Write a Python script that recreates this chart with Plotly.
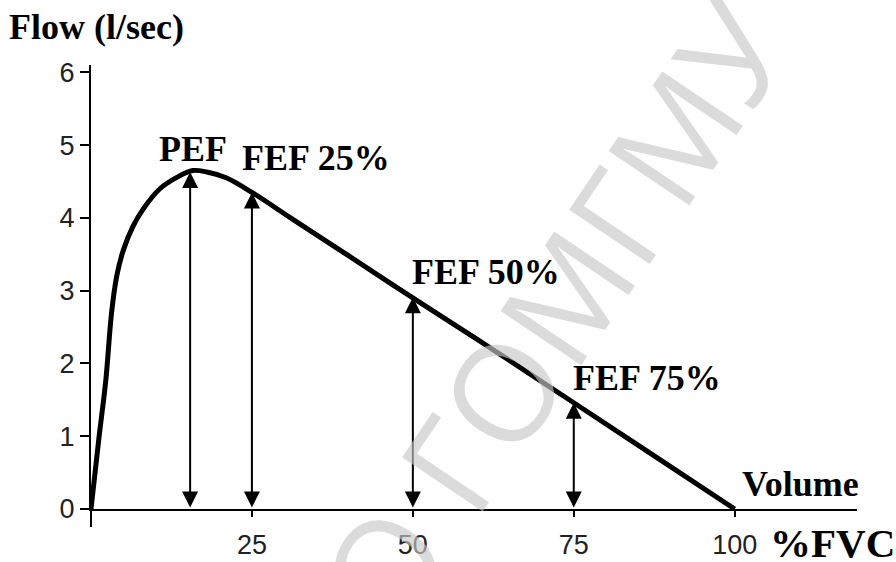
import plotly.graph_objects as go

# flow-volume curve
fvc_pct = [0, 1.2, 2.3, 3.2, 4.0, 5.0, 6.5, 8.1, 10.7, 13.4, 15.8, 18, 21, 25, 31, 40, 50, 60, 75, 87.5, 100]
flow = [0, 0.95, 1.77, 2.7, 3.2, 3.55, 3.88, 4.12, 4.4, 4.56, 4.65, 4.63, 4.55, 4.35, 4.0, 3.48, 2.9, 2.33, 1.46, 0.73, 0]

# measured points marked by arrows
labels = ["PEF", "FEF 25%", "FEF 50%", "FEF 75%"]
label_x = [15.4, 25, 50, 75]
label_flow = [4.63, 4.35, 2.91, 1.46]

x_ticks = [25, 50, 75, 100]
y_ticks = [0, 1, 2, 3, 4, 5, 6]

W, H = 896, 562
L, R, T, B = 91, 39, 65, 53

serif = dict(family="Liberation Serif, Times New Roman, serif", size=36, color="black", weight="bold")
tickfont = dict(family="Arial, Liberation Sans", size=27, color='#222')


def px_x(p):
    return (p - L) / (W - L - R)


def px_y(p):
    return (H - B - p) / (H - T - B)


fig = go.Figure()

fig.add_trace(go.Scatter(x=fvc_pct, y=flow, mode='lines', cliponaxis=False,
                         line=dict(color='black', width=5, shape='spline', smoothing=1.0),
                         hoverinfo='skip', showlegend=False))

for x, f in zip(label_x, label_flow):
    fig.add_annotation(x=x, y=f, ax=x, ay=0, axref='x', ayref='y', text='',
                       showarrow=True, arrowside='end+start', arrowhead=2,
                       arrowsize=1.6, arrowwidth=2, arrowcolor='black')

# text labels
fig.add_annotation(x=15.8, y=4.95, text=labels[0], showarrow=False, font=serif, xanchor='center')
fig.add_annotation(x=23.1, y=4.82, text=labels[1], showarrow=False, font=serif, xanchor='left')
fig.add_annotation(x=49.5, y=3.26, text=labels[2], showarrow=False, font=serif, xanchor='left')
fig.add_annotation(x=74.5, y=1.8, text=labels[3], showarrow=False, font=serif, xanchor='left')
fig.add_annotation(x=100.8, y=0.35, text="Volume", showarrow=False, font=serif, xanchor='left')
fig.add_annotation(x=105.1, y=px_y(543), yref='paper', text="%FVC", showarrow=False,
                   font=dict(serif, size=41), xanchor='left', yanchor='middle')
fig.add_annotation(x=px_x(7), y=px_y(27), xref='paper', yref='paper', text="Flow (l/sec)",
                   showarrow=False, font=serif, xanchor='left', yanchor='middle')

# y axis continues a bit below zero
fig.add_shape(type='line', xref='paper', yref='paper', x0=0, x1=0, y0=0, y1=px_y(527),
              line=dict(color='black', width=2))

# watermark
fig.add_annotation(x=px_x(529), y=px_y(348), xref='paper', yref='paper', text="УО ГОМГМУ",
                   showarrow=False, textangle=-56,
                   font=dict(family="Open Sans", size=136, color="rgba(200,200,200,0.65)"))

fig.update_layout(
    width=W, height=H,
    margin=dict(l=L, r=R, t=T, b=B),
    plot_bgcolor='white', paper_bgcolor='white',
    showlegend=False,
    xaxis=dict(range=[0, 119], showgrid=False, zeroline=False, showline=True, linecolor='black',
               linewidth=2, ticks='outside', ticklen=6, tickwidth=2, tickcolor='black',
               tickvals=x_ticks, tickfont=tickfont, ticklabelstandoff=5, automargin=False),
    yaxis=dict(range=[0, 6.1], showgrid=False, zeroline=False, showline=True, linecolor='black',
               linewidth=2, ticks='outside', ticklen=9, tickwidth=2, tickcolor='black',
               tickvals=y_ticks, tickfont=tickfont, automargin=False),
)

fig.write_html("out.html", config={'displayModeBar': False},
               post_script="document.body.style.margin='0';")
